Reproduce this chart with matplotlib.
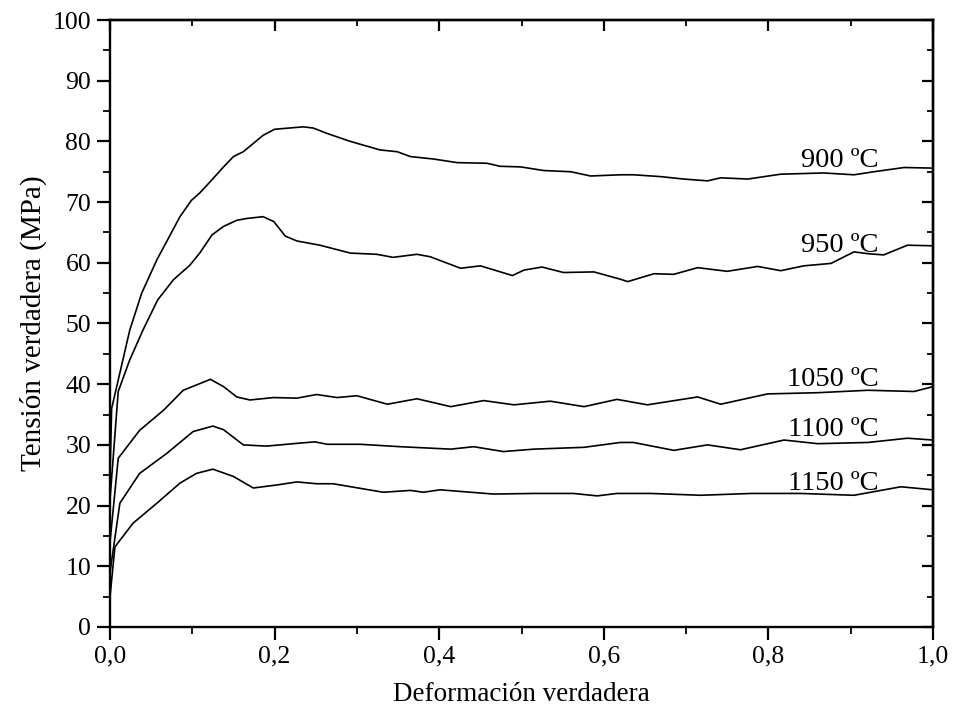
import matplotlib
matplotlib.use("Agg")
import matplotlib.pyplot as plt
from matplotlib.ticker import MultipleLocator

plt.rcParams['font.family'] = ['Liberation Serif', 'DejaVu Serif']

x_900 = [0.0, 0.002, 0.024, 0.0385, 0.057, 0.085, 0.099, 0.109, 0.122, 0.138, 0.15, 0.162, 0.186, 0.2,
         0.235, 0.247, 0.264, 0.292, 0.328, 0.349, 0.365, 0.393, 0.422, 0.458, 0.474, 0.499, 0.527, 0.56,
         0.584, 0.62, 0.636, 0.669, 0.697, 0.726, 0.742, 0.775, 0.815, 0.867, 0.904, 0.928, 0.965, 1.0]
y_900 = [25.0, 36.0, 48.9, 55.0, 60.5, 67.6, 70.3, 71.5, 73.4, 75.8, 77.5, 78.3, 81.0, 82.0,
         82.4, 82.2, 81.3, 80.0, 78.6, 78.3, 77.5, 77.1, 76.5, 76.4, 75.9, 75.8, 75.2, 75.0,
         74.3, 74.5, 74.5, 74.2, 73.8, 73.5, 74.0, 73.8, 74.6, 74.8, 74.5, 75.0, 75.7, 75.6]

x_950 = [0.0, 0.01, 0.024, 0.04, 0.058, 0.077, 0.097, 0.109, 0.124, 0.138, 0.154, 0.166, 0.186, 0.199,
         0.213, 0.227, 0.255, 0.292, 0.324, 0.344, 0.373, 0.389, 0.426, 0.45, 0.489, 0.503, 0.525, 0.551,
         0.588, 0.62, 0.629, 0.661, 0.685, 0.714, 0.75, 0.787, 0.815, 0.843, 0.876, 0.904, 0.921, 0.94,
         0.969, 1.0]
y_950 = [21.0, 38.8, 44.0, 48.9, 53.9, 57.2, 59.6, 61.6, 64.6, 66.0, 67.0, 67.3, 67.6, 66.8,
         64.4, 63.6, 62.9, 61.6, 61.4, 60.9, 61.4, 61.0, 59.1, 59.5, 57.9, 58.8, 59.3, 58.4,
         58.5, 57.3, 56.9, 58.2, 58.1, 59.2, 58.6, 59.4, 58.7, 59.5, 59.9, 61.8, 61.5, 61.3,
         62.9, 62.8]

x_1050 = [0.0, 0.01, 0.036, 0.065, 0.089, 0.122, 0.138, 0.154, 0.17, 0.199, 0.227, 0.251, 0.276, 0.3,
          0.337, 0.373, 0.414, 0.454, 0.491, 0.535, 0.576, 0.616, 0.653, 0.714, 0.742, 0.799, 0.86,
          0.921, 0.977, 1.0]
y_1050 = [14.0, 27.8, 32.4, 35.7, 39.0, 40.8, 39.6, 37.9, 37.4, 37.8, 37.7, 38.3, 37.8, 38.1,
          36.7, 37.6, 36.3, 37.3, 36.6, 37.2, 36.3, 37.5, 36.6, 37.9, 36.7, 38.4, 38.6,
          39.0, 38.8, 39.6]

x_1100 = [0.0, 0.012, 0.036, 0.069, 0.101, 0.125, 0.138, 0.162, 0.19, 0.231, 0.249, 0.264, 0.304,
          0.353, 0.414, 0.442, 0.478, 0.515, 0.576, 0.62, 0.636, 0.685, 0.726, 0.766, 0.819, 0.86,
          0.921, 0.969, 1.0]
y_1100 = [9.0, 20.4, 25.3, 28.6, 32.2, 33.1, 32.5, 30.0, 29.8, 30.3, 30.5, 30.1, 30.1,
          29.7, 29.3, 29.7, 28.9, 29.3, 29.6, 30.4, 30.4, 29.1, 30.0, 29.2, 30.8, 30.2,
          30.4, 31.1, 30.8]

x_1150 = [0.0, 0.006, 0.028, 0.057, 0.085, 0.105, 0.125, 0.15, 0.174, 0.203, 0.227, 0.251, 0.271,
          0.332, 0.365, 0.381, 0.401, 0.466, 0.515, 0.563, 0.592, 0.616, 0.657, 0.718, 0.779, 0.839,
          0.904, 0.961, 1.0]
y_1150 = [5.0, 13.2, 17.1, 20.4, 23.7, 25.3, 26.0, 24.8, 22.9, 23.4, 23.9, 23.6, 23.6,
          22.2, 22.5, 22.2, 22.6, 21.9, 22.0, 22.0, 21.6, 22.0, 22.0, 21.7, 22.0, 22.0,
          21.7, 23.1, 22.6]

labels = ["900 ºC", "950 ºC", "1050 ºC", "1100 ºC", "1150 ºC"]
label_y = [76.8, 62.8, 40.7, 32.5, 23.6]

series = [(x_900, y_900), (x_950, y_950), (x_1050, y_1050), (x_1100, y_1100), (x_1150, y_1150)]

fig = plt.figure(figsize=(9.54, 7.12), dpi=100)
ax = fig.add_axes([0.1153, 0.1194, 0.8627, 0.8525])

for (xs, ys) in series:
    ax.plot(xs, ys, color='black', lw=1.2)

for lab, ly in zip(labels, label_y):
    ax.text(0.934, ly, lab, ha='right', va='center', fontsize=20.5)

ax.set_xlim(0, 1.0)
ax.set_ylim(0, 100)
ax.xaxis.set_minor_locator(MultipleLocator(0.1))
ax.yaxis.set_major_locator(MultipleLocator(10))
ax.yaxis.set_minor_locator(MultipleLocator(5))
ax.set_xticks([0, 0.2, 0.4, 0.6, 0.8, 1.0])
ax.set_xticklabels(["0,0", "0,2", "0,4", "0,6", "0,8", "1,0"])
ax.tick_params(axis='both', which='major', direction='out', length=9.5, width=1.6, labelsize=18.5, pad=4)
ax.tick_params(axis='both', which='minor', direction='out', length=5, width=1.3)
for s in ax.spines.values():
    s.set_linewidth(1.7)

# mirrored inward ticks on top and right
sx = ax.secondary_xaxis('top')
sx.xaxis.set_major_locator(MultipleLocator(0.2))
sx.xaxis.set_minor_locator(MultipleLocator(0.1))
sx.tick_params(which='major', direction='in', length=8, width=1.6, labeltop=False)
sx.tick_params(which='minor', direction='in', length=4.5, width=1.3)
sx.spines['top'].set_linewidth(1.7)
sy = ax.secondary_yaxis('right')
sy.yaxis.set_major_locator(MultipleLocator(10))
sy.yaxis.set_minor_locator(MultipleLocator(5))
sy.tick_params(which='major', direction='in', length=8, width=1.6, labelright=False)
sy.tick_params(which='minor', direction='in', length=4.5, width=1.3)
sy.spines['right'].set_linewidth(1.7)

ax.set_xlabel("Deformación verdadera", fontsize=19.5, labelpad=10)
ax.set_ylabel("Tensión verdadera (MPa)", fontsize=21, labelpad=4)

fig.savefig("out.png", dpi=100)
